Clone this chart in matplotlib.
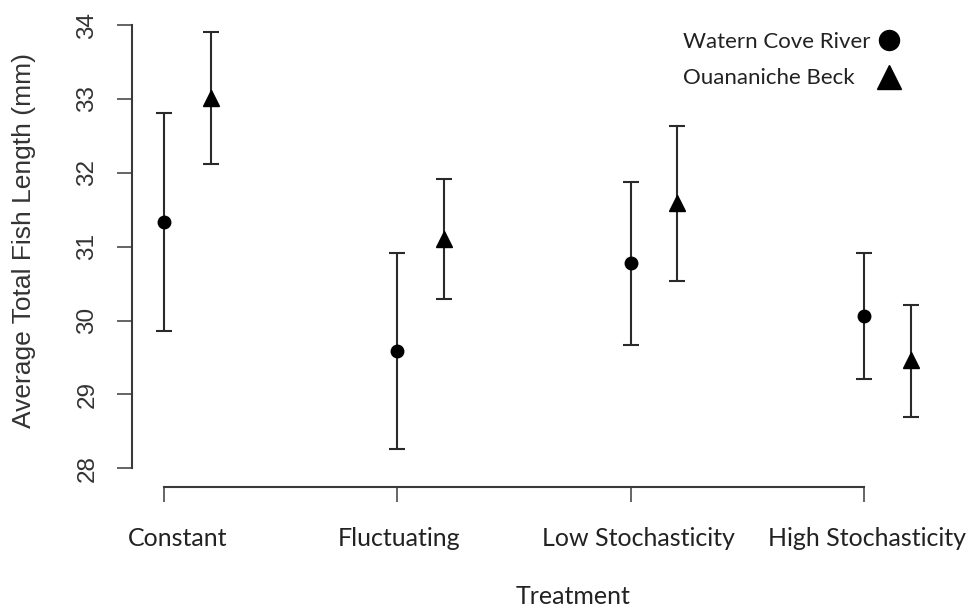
import matplotlib
matplotlib.use('Agg')
import matplotlib.pyplot as plt
import matplotlib.transforms as mtransforms
import numpy as np

# data
treatments = ['Constant', 'Fluctuating', 'Low Stochasticity', 'High Stochasticity']
wcr_mean = [31.34, 29.59, 30.78, 30.06]
wcr_low = [29.86, 28.26, 29.67, 29.21]
wcr_high = [32.81, 30.92, 31.87, 30.91]
ob_mean = [33.01, 31.11, 31.59, 29.47]
ob_low = [32.12, 30.29, 30.53, 28.70]
ob_high = [33.90, 31.91, 32.64, 30.21]
series_names = ['Watern Cove River', 'Ouananiche Beck']

x = np.arange(1, len(treatments) + 1)
offset = 0.2

W, H = 973, 610
fig = plt.figure(figsize=(W / 100, H / 100), dpi=100)
ax = fig.add_axes([131.7 / W, 1 - 486.7 / H, (960 - 131.7) / W, (486.7 - 20) / H])
ax.set_xlim(0.8616, 4.411)
ax.set_ylim(27.751, 34.068)

line_col = '#2a2a2a'
wcr_err = [np.array(wcr_mean) - np.array(wcr_low), np.array(wcr_high) - np.array(wcr_mean)]
ob_err = [np.array(ob_mean) - np.array(ob_low), np.array(ob_high) - np.array(ob_mean)]

h1 = ax.errorbar(x, wcr_mean, yerr=wcr_err, fmt='o', color='black', ecolor=line_col,
                 elinewidth=1.5, capsize=6, capthick=1.5, markersize=9)
h2 = ax.errorbar(x + offset, ob_mean, yerr=ob_err, fmt='^', color='black', ecolor=line_col,
                 elinewidth=1.5, capsize=6, capthick=1.5, markersize=11)

# R-style axes
for s in ['top', 'right']:
    ax.spines[s].set_visible(False)
ax.spines['left'].set_bounds(28, 34)
ax.spines['bottom'].set_bounds(1, 4)
for s in ['left', 'bottom']:
    ax.spines[s].set_color('#3a3a3a')
    ax.spines[s].set_linewidth(1.5)

ax.set_yticks(np.arange(28, 35, 1))
ax.set_xticks(x)
ax.set_xticklabels(treatments, fontsize=18, family='Lato', color='#222222')
ax.tick_params(axis='both', length=11, width=1.1, color='#3a3a3a')
ax.tick_params(axis='x', pad=18)
ax.tick_params(axis='y', pad=13, labelsize=17.5, labelcolor='#333333')
for lab in ax.get_yticklabels():
    lab.set_rotation(90)
    lab.set_va('center')
    lab.set_family('Liberation Sans')

# the category labels sit a little right of their ticks in the original
label_shift = [14, 2, 8, 3]
for lab, dx in zip(ax.get_xticklabels(), label_shift):
    lab.set_transform(lab.get_transform() + mtransforms.ScaledTranslation(dx / 100, 0, fig.dpi_scale_trans))

fig.text(24 / W, 1 - 241 / H, 'Average Total Fish Length (mm)', rotation=90,
         ha='center', va='center', fontsize=19, family='Liberation Sans', color='#333333')
fig.text(573 / W, 1 - 596 / H, 'Treatment', ha='center', va='center',
         fontsize=18, family='Lato', color='#222222')

# legend: left-aligned names, markers in a column to their right
leg = ax.legend(handles=[h1[0], h2[0]], labels=['', ''], loc='center',
                bbox_to_anchor=(889 / W, 1 - 60 / H), bbox_transform=fig.transFigure,
                frameon=False, prop={'size': 16}, markerscale=1.6, handlelength=1.0,
                handletextpad=0, labelspacing=0.75, borderpad=0)
for name, yy in zip(series_names, [41.7, 78.3]):
    fig.text(683 / W, 1 - yy / H, name, ha='left', va='center', fontsize=16,
             family='Lato', color='#222222')

fig.savefig('out.png', dpi=100)
